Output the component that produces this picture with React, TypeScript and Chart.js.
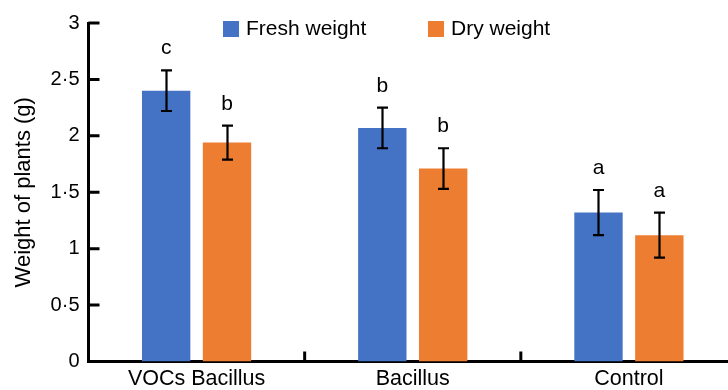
import React, { useEffect, useRef } from "react";
import { Chart, registerables } from "chart.js";

Chart.register(...registerables);

const categories = ["VOCs Bacillus", "Bacillus", "Control"];
const seriesNames = ["Fresh weight", "Dry weight"];
const freshWeight = [2.4, 2.07, 1.32];
const dryWeight = [1.94, 1.71, 1.12];
const freshError = [0.18, 0.18, 0.2];
const dryError = [0.15, 0.18, 0.2];
const freshLetters = ["c", "b", "a"];
const dryLetters = ["b", "b", "a"];
const yTicks = [0, 0.5, 1, 1.5, 2, 2.5, 3];
const colors = ["#4472C4", "#ED7D31"];

const FONT = "'Liberation Sans', Arial, Helvetica, sans-serif";
const values = [freshWeight, dryWeight];
const errors = [freshError, dryError];
const letters = [freshLetters, dryLetters];

const overlay = {
  id: "overlay",
  afterDatasetsDraw(chart: any) {
    const ctx = chart.ctx;
    const y = chart.scales.y;
    ctx.save();
    values.forEach((vals, di) => {
      const meta = chart.getDatasetMeta(di);
      meta.data.forEach((bar: any, i: number) => {
        const v = vals[i];
        const e = errors[di][i];
        const top = y.getPixelForValue(v + e);
        const bot = y.getPixelForValue(v - e);
        const cx = Math.round(bar.x) + 0.5;
        ctx.strokeStyle = "#000";
        ctx.lineWidth = 2.2;
        ctx.beginPath();
        ctx.moveTo(cx, top);
        ctx.lineTo(cx, bot);
        ctx.moveTo(cx - 5.5, top);
        ctx.lineTo(cx + 5.5, top);
        ctx.moveTo(cx - 5.5, bot);
        ctx.lineTo(cx + 5.5, bot);
        ctx.stroke();
        ctx.fillStyle = "#000";
        ctx.font = `21px ${FONT}`;
        ctx.textAlign = "center";
        ctx.textBaseline = "alphabetic";
        ctx.fillText(letters[di][i], bar.x, top - 16);
      });
    });
    ctx.restore();
  },
  afterDraw(chart: any) {
    const ctx = chart.ctx;
    const { left, bottom } = chart.chartArea;
    const y = chart.scales.y;
    const x = chart.scales.x;
    ctx.save();
    ctx.strokeStyle = "#000";
    ctx.lineWidth = 3;
    ctx.beginPath();
    yTicks.forEach((t) => {
      const py = y.getPixelForValue(t);
      ctx.moveTo(left, py);
      ctx.lineTo(left + 11, py);
    });
    for (let i = 1; i < categories.length; i++) {
      const px = (x.getPixelForValue(i - 1) + x.getPixelForValue(i)) / 2;
      ctx.moveTo(px, bottom);
      ctx.lineTo(px, bottom - 10);
    }
    ctx.stroke();
    // legend
    const legendX = [223, 428];
    ctx.font = `21px ${FONT}`;
    ctx.textAlign = "left";
    ctx.textBaseline = "middle";
    seriesNames.forEach((name, i) => {
      ctx.fillStyle = colors[i];
      ctx.fillRect(legendX[i], 21, 16, 16);
      ctx.fillStyle = "#000";
      ctx.fillText(name, legendX[i] + 23, 29.5);
    });
    ctx.restore();
  },
};

export default function App() {
  const ref = useRef<HTMLCanvasElement>(null);
  useEffect(() => {
    if (!ref.current) return;
    const chart = new Chart(ref.current, {
      type: "bar",
      data: {
        labels: categories,
        datasets: seriesNames.map((name, i) => ({
          label: name,
          data: values[i],
          backgroundColor: colors[i],
          borderWidth: 0,
          barPercentage: 0.795,
          categoryPercentage: 0.563,
        })),
      },
      plugins: [overlay],
      options: {
        animation: false,
        responsive: false,
        devicePixelRatio: 1,
        layout: { padding: { top: 23, left: 0, right: 0, bottom: 0 } },
        plugins: {
          legend: { display: false },
          tooltip: { enabled: false },
        },
        scales: {
          x: {
            grid: { display: false, drawTicks: false },
            border: { display: true, color: "#000", width: 3 },
            ticks: { color: "#000", font: { family: FONT, size: 21.5 }, padding: 5 },
            afterFit(s: any) {
              s.height = 28.5;
            },
          },
          y: {
            min: 0,
            max: 3,
            grid: { display: false, drawTicks: false },
            border: { display: true, color: "#000", width: 3 },
            ticks: {
              stepSize: 0.5,
              color: "#000",
              padding: 9,
              font: { family: FONT, size: 20 },
              callback: (v: any) => String(v).replace(".", "·"),
            },
            title: {
              display: true,
              text: "Weight of plants (g)",
              color: "#000",
              font: { family: FONT, size: 22 },
              padding: { top: 11, bottom: 0 },
            },
            afterFit(s: any) {
              s.width = 88.5;
            },
          },
        },
      },
    });
    return () => chart.destroy();
  }, []);
  return (
    <div
      style={{
        position: "fixed",
        left: 0,
        top: 0,
        width: 728,
        height: 390,
        overflow: "hidden",
        background: "#fff",
      }}
    >
      <canvas ref={ref} width={737} height={390} style={{ display: "block", width: 737, height: 390 }} />
    </div>
  );
}
